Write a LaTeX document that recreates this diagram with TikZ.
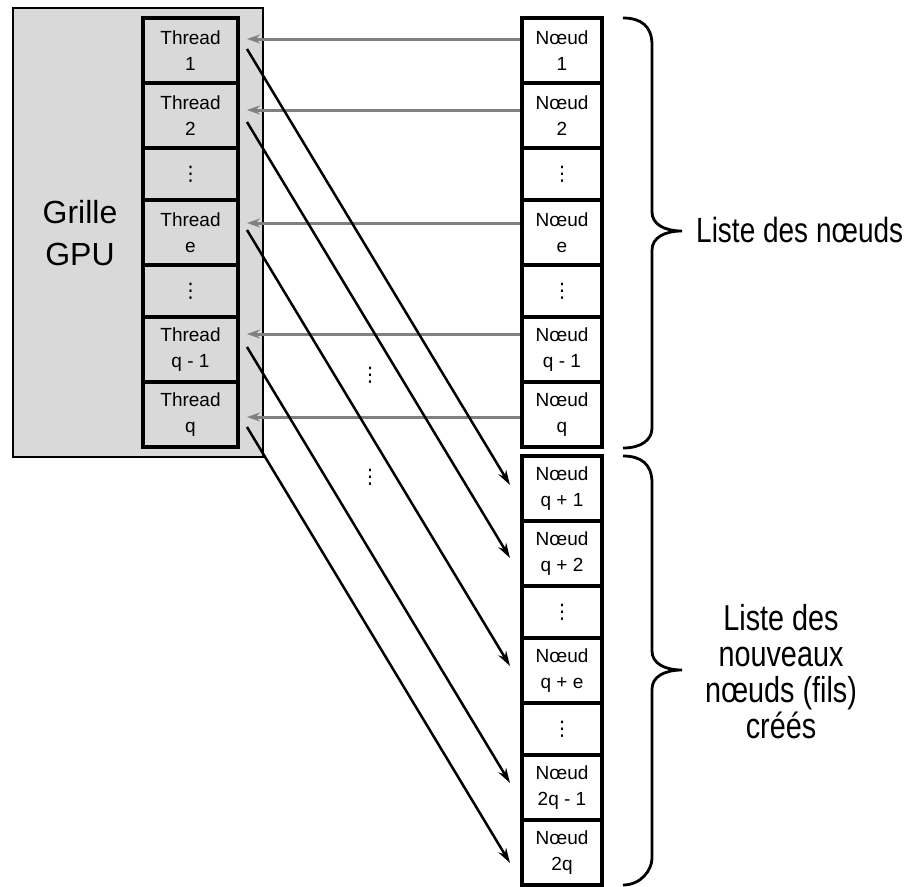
\documentclass[tikz,border=0pt]{standalone}
\usepackage{fontspec}
\setmainfont{Liberation Sans}
\newfontfamily\narrowfont{Liberation Sans}[FakeStretch=0.8]
\newfontfamily\dotsfamily{DejaVu Sans}
\usetikzlibrary{arrows.meta}
\definecolor{gridgray}{HTML}{D9D9D9}
\definecolor{arrowgray}{HTML}{808080}
\begin{document}
\begin{tikzpicture}[x=1pt,y=-1pt,
  cell/.style={draw=black, line width=4pt, inner sep=0pt, align=center,
    font=\fontsize{19}{26}\selectfont},
  tcell/.style={cell, minimum width=95pt},
  ncell/.style={cell, minimum width=80pt, fill=white},
  tall/.style={minimum height=65pt},
  short/.style={minimum height=52pt},
  dotsfont/.style={font=\dotsfamily\fontsize{20}{20}\selectfont},
  grayarr/.style={draw=arrowgray, line width=3pt, -{Stealth[length=13pt,width=9pt]}},
  blackarr/.style={draw=black, line width=2.5pt, -{Stealth[length=15pt,width=9pt]}},
  bracestyle/.style={draw=black, line width=2.8pt},
  biglabel/.style={inner sep=0pt, align=center}
]
\useasboundingbox (0,0) rectangle (907,886);

% GPU grid background
\node[draw=black, line width=2.5pt, fill=gridgray, minimum width=250pt, minimum height=449pt, inner sep=0pt] (grid) at (138,232.5) {};
\node[inner sep=0pt, align=center, font=\fontsize{32}{42}\selectfont] (gpu) at (80,233) {Grille\\GPU};

% thread column
\node[tcell, tall]  (t1)  at (190.5,50.5)  {Thread\\1};
\node[tcell, tall]  (t2)  at (190.5,115.5) {Thread\\2};
\node[tcell, short, dotsfont] (td1) at (190.5,174) {⋮};
\node[tcell, tall]  (te)  at (190.5,232.5) {Thread\\e};
\node[tcell, short, dotsfont] (td2) at (190.5,291) {⋮};
\node[tcell, tall]  (tq1) at (190.5,349.5) {Thread\\q - 1};
\node[tcell, tall]  (tq)  at (190.5,414.5) {Thread\\q};

% node list
\node[ncell, tall]  (n1)  at (562,50.5)  {Nœud\\1};
\node[ncell, tall]  (n2)  at (562,115.5) {Nœud\\2};
\node[ncell, short, dotsfont] (nd1) at (562,174) {⋮};
\node[ncell, tall]  (ne)  at (562,232.5) {Nœud\\e};
\node[ncell, short, dotsfont] (nd2) at (562,291) {⋮};
\node[ncell, tall]  (nq1) at (562,349.5) {Nœud\\q - 1};
\node[ncell, tall]  (nq)  at (562,414.5) {Nœud\\q};

% new node list
\node[ncell, tall]  (m1)  at (562,488.5) {Nœud\\q + 1};
\node[ncell, tall]  (m2)  at (562,553.5) {Nœud\\q + 2};
\node[ncell, short, dotsfont] (md1) at (562,612) {⋮};
\node[ncell, tall]  (me)  at (562,670.5) {Nœud\\q + e};
\node[ncell, short, dotsfont] (md2) at (562,729) {⋮};
\node[ncell, tall]  (mq1) at (562,787.5) {Nœud\\2q - 1};
\node[ncell, tall]  (mq)  at (562,852.5) {Nœud\\2q};

% gray arrows (nodes -> threads)
\draw[grayarr] ([shift={(0,-11.5)}]n1.west)  -- ([shift={(7,-11.5)}]t1.east);
\draw[grayarr] ([shift={(0,-5.5)}]n2.west)   -- ([shift={(7,-5.5)}]t2.east);
\draw[grayarr] ([shift={(0,-9.5)}]ne.west)   -- ([shift={(7,-9.5)}]te.east);
\draw[grayarr] ([shift={(0,-15.5)}]nq1.west) -- ([shift={(7,-15.5)}]tq1.east);
\draw[grayarr] ([shift={(0,2.5)}]nq.west)    -- ([shift={(7,2.5)}]tq.east);

% black arrows (threads -> new nodes)
\draw[blackarr] ([shift={(7,-1.5)}]t1.east)  -- ([shift={(-10,-3.5)}]m1.west);
\draw[blackarr] ([shift={(7,6.5)}]t2.east)   -- ([shift={(-10,4.5)}]m2.west);
\draw[blackarr] ([shift={(7,-2.5)}]te.east)  -- ([shift={(-10,-4.5)}]me.west);
\draw[blackarr] ([shift={(7,-2.5)}]tq1.east) -- ([shift={(-10,-4.5)}]mq1.west);
\draw[blackarr] ([shift={(7,12.5)}]tq.east)  -- ([shift={(-10,10.5)}]mq.west);

% middle dots
\node[inner sep=0pt, dotsfont] (gap1) at (370,375) {⋮};
\node[inner sep=0pt, dotsfont] (gap2) at (370,477) {⋮};

% braces
\draw[bracestyle] (623,18) .. controls (641,18) and (652,26) .. (652,45)
  -- (652,212) .. controls (652,224) and (664,231) .. (682,231)
  .. controls (664,231) and (652,238) .. (652,250)
  -- (652,428) .. controls (652,440) and (641,448) .. (623,448);
\draw[bracestyle] (623,456) .. controls (641,456) and (652,464) .. (652,483)
  -- (652,651) .. controls (652,663) and (664,670) .. (682,670)
  .. controls (664,670) and (652,677) .. (652,689)
  -- (652,858) .. controls (652,870) and (641,885) .. (623,885);

% labels
\node[biglabel, anchor=west, font=\narrowfont\fontsize{35}{36}\selectfont] (lab1) at (696,230) {Liste des nœuds};
\node[biglabel, font=\narrowfont\fontsize{36}{36}\selectfont] (lab2) at (781,672) {Liste des\\nouveaux\\nœuds (fils)\\créés};
\end{tikzpicture}
\end{document}
